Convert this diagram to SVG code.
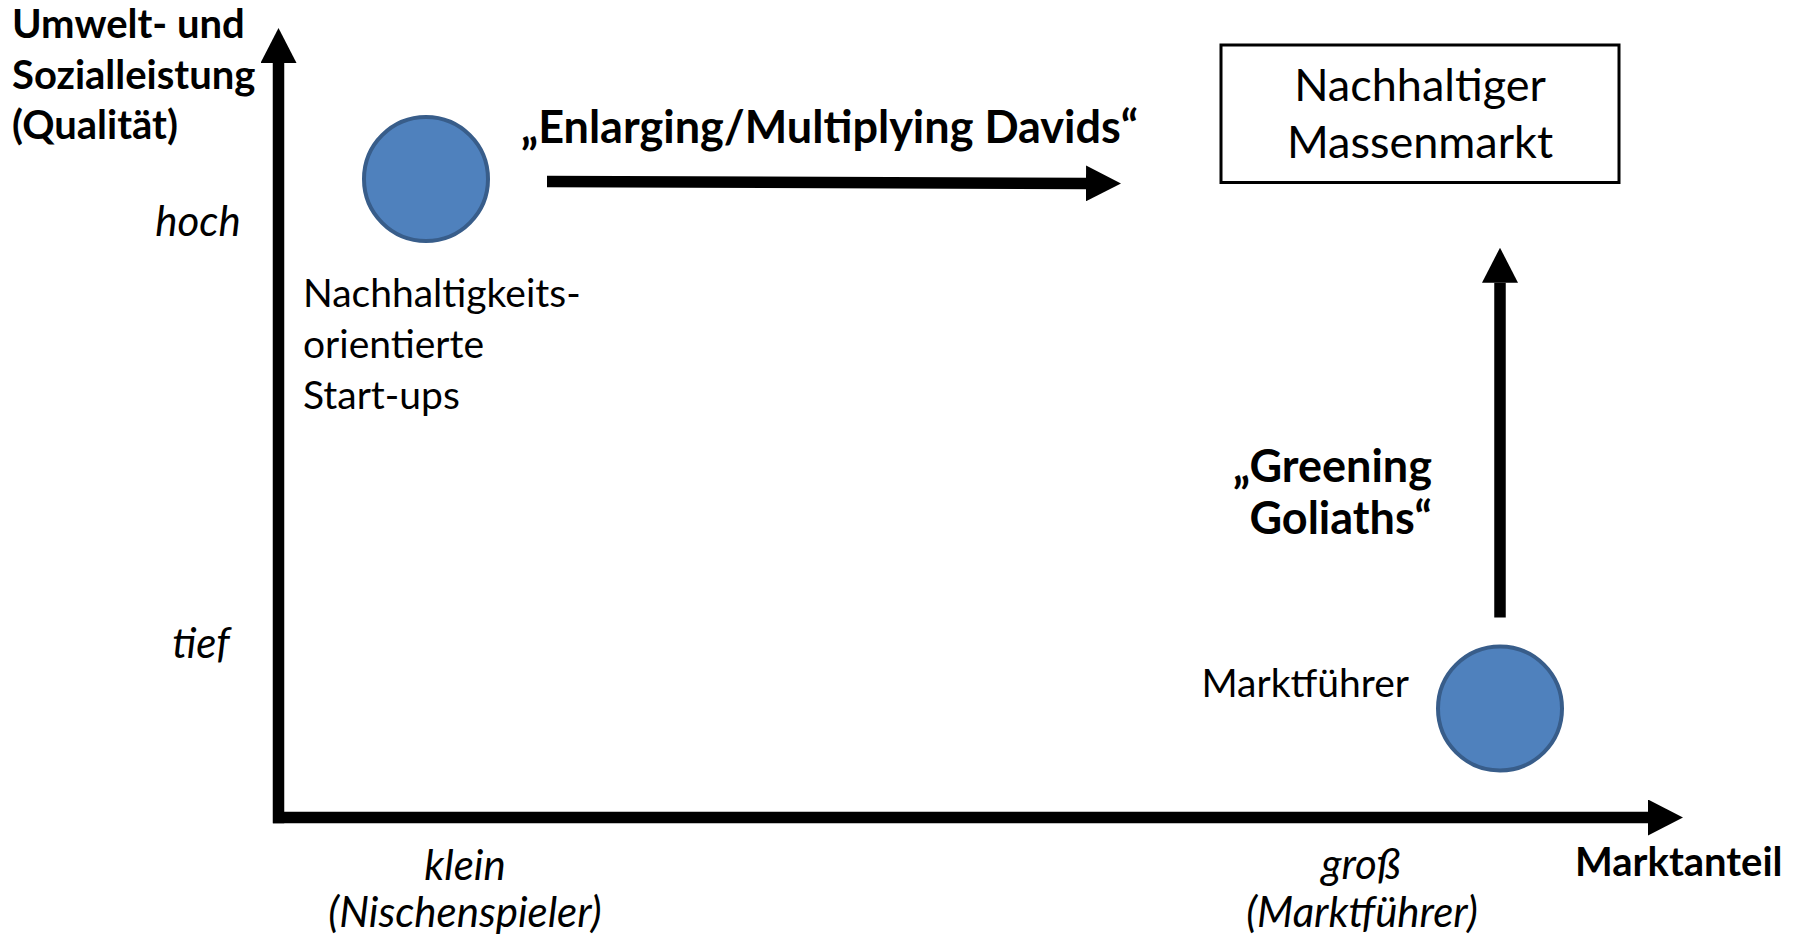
<svg xmlns="http://www.w3.org/2000/svg" width="1793" height="935" viewBox="0 0 1793 935">
<style>
text{font-family:Lato,"Open Sans","Liberation Sans",sans-serif;fill:#000}
.b{font-weight:bold;font-size:40px}
.bl{font-weight:bold;font-size:45px}
.r{font-size:39px}
.i{font-style:italic;font-size:42px}
.box{font-size:45px}
.dot{fill:#4F81BD;stroke:#385D8A;stroke-width:4}
.arr{stroke:#000;stroke-width:11.5;fill:none;marker-end:url(#head)}
</style>
<defs>
<marker id="head" markerUnits="userSpaceOnUse" markerWidth="36" markerHeight="36" refX="0" refY="18" orient="auto" viewBox="0 0 36 36">
<path d="M0,0 L35,18 L0,36 Z" fill="#000"/>
</marker>
</defs>
<rect width="1793" height="935" fill="#fff"/>
<g id="axes">
<line class="arr" x1="278.5" y1="823.3" x2="278.5" y2="63"/>
<line class="arr" x1="273" y1="817.5" x2="1648" y2="817.5"/>
</g>
<g id="y-axis-label">
<text class="b" x="12" y="38">Umwelt- und</text>
<text class="b" x="12" y="89">Sozialleistung</text>
<text class="b" x="12" y="139">(Qualität)</text>
</g>
<g id="y-ticks">
<text class="i" x="198" y="236" text-anchor="middle">hoch</text>
<text class="i" x="201" y="658" text-anchor="middle">tief</text>
</g>
<g id="x-ticks">
<text class="i" x="465" y="880" text-anchor="middle">klein</text>
<text class="i" x="465" y="927" text-anchor="middle">(Nischenspieler)</text>
<text class="i" x="1361" y="879" text-anchor="middle">groß</text>
<text class="i" x="1362" y="927" text-anchor="middle">(Marktführer)</text>
</g>
<g id="x-axis-label">
<text class="b" x="1575" y="876">Marktanteil</text>
</g>
<g id="startups">
<circle class="dot" cx="426" cy="179" r="62"/>
<text class="r" x="303" y="307">Nachhaltigkeits-</text>
<text class="r" x="303" y="358">orientierte</text>
<text class="r" x="303" y="409">Start-ups</text>
</g>
<g id="marktfuehrer">
<circle class="dot" cx="1500" cy="708.5" r="62"/>
<text class="r" x="1409" y="697" text-anchor="end">Marktführer</text>
</g>
<g id="massenmarkt">
<rect x="1221" y="45" width="398" height="137.5" fill="#fff" stroke="#000" stroke-width="3"/>
<text class="box" x="1420" y="101" text-anchor="middle">Nachhaltiger</text>
<text class="box" x="1420" y="158" text-anchor="middle">Massenmarkt</text>
</g>
<g id="connectors">
<line class="arr" x1="547" y1="181.5" x2="1086" y2="183.4"/>
<text class="bl" x="829.5" y="143" text-anchor="middle">„Enlarging/Multiplying Davids“</text>
<line class="arr" x1="1500" y1="617.5" x2="1500" y2="282.7"/>
<text class="bl" x="1432" y="482" text-anchor="end">„Greening</text>
<text class="bl" x="1432" y="534" text-anchor="end">Goliaths“</text>
</g>
</svg>
